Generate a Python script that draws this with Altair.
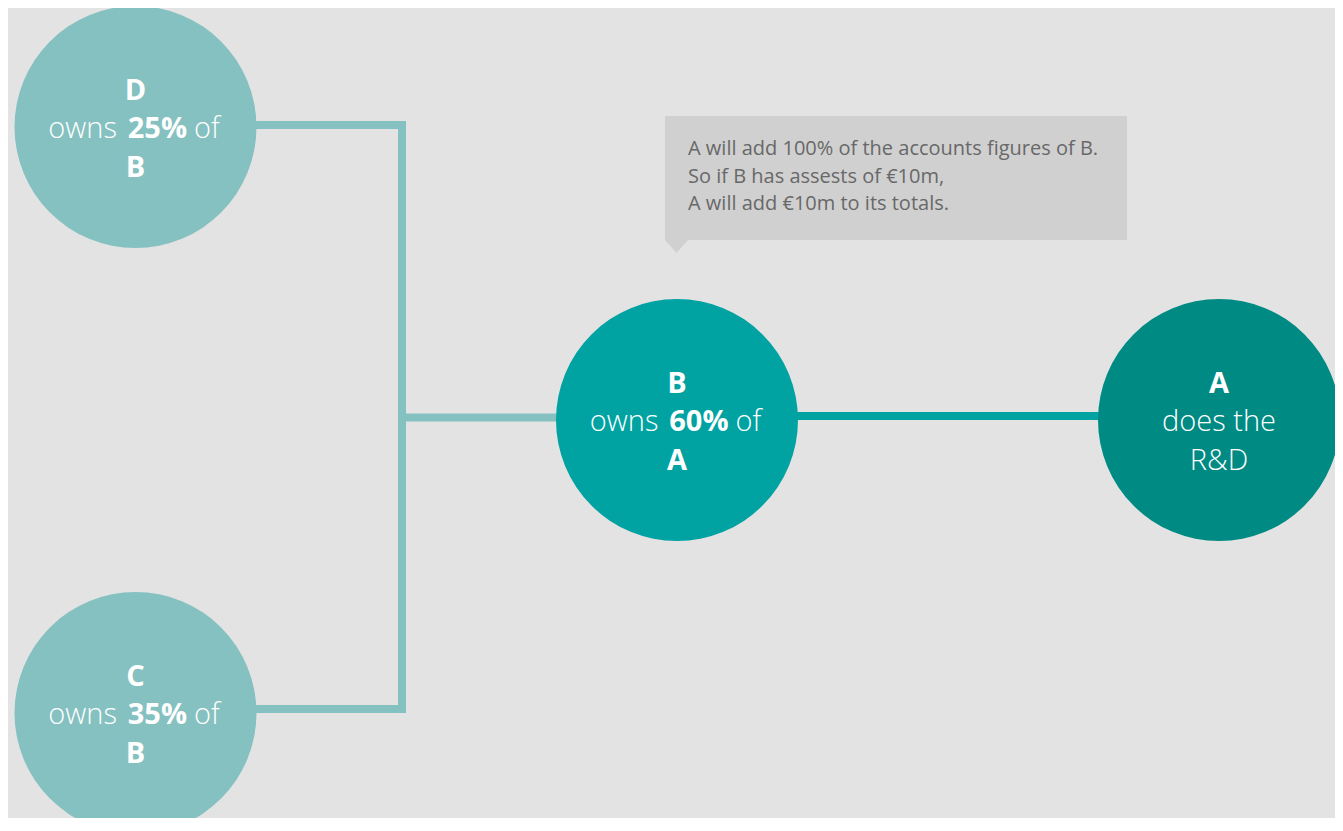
import altair as alt
import pandas as pd

# ---------------- data ----------------
node_names = ["D", "C", "B", "A"]
node_x = [135.5, 135.5, 677, 1219]
node_y = [127, 713, 420, 420]
node_color = ["#85c1c0", "#85c1c0", "#00a3a1", "#008a84"]
node_radius = [121, 121, 121, 121]

top_label = ["D", "C", "B", "A"]
mid_pre = ["owns", "owns", "owns", ""]
mid_bold = ["25%", "35%", "60%", ""]
mid_post = ["of", "of", "of", ""]
mid_plain = ["", "", "", "does the"]
bottom_label = ["B", "B", "A", "R&D"]
bottom_bold = [True, True, True, False]

callout_lines = [
    "A will add 100% of the accounts figures of B.",
    "So if B has assests of \u20ac10m,",
    "A will add \u20ac10m to its totals.",
]

# connector paths (elbow from D and C to B, then B to A)
path_id = [0, 0, 0, 0, 1, 1, 2, 2]
path_x = [135.5, 402, 402, 135.5, 402, 677, 677, 1219]
path_y = [125, 125, 709, 709, 417.5, 417.5, 416, 416]
path_color = ["#85c1c0", "#85c1c0", "#85c1c0", "#85c1c0", "#85c1c0", "#85c1c0", "#00a3a1", "#00a3a1"]

# callout box
box_x, box_x2, box_y, box_y2 = 665, 1127, 116, 240
tip_x = [665, 676.5, 688]
tip_y = [240, 253, 240]

BG = "#e3e3e3"
FONT = "Open Sans"

W, H = 1327, 810
xs = alt.Scale(domain=[8, 8 + W], nice=False, zero=False)
ys = alt.Scale(domain=[8, 8 + H], nice=False, zero=False, reverse=True)
X = lambda f: alt.X(f, type="quantitative", scale=xs, axis=None)
Y = lambda f: alt.Y(f, type="quantitative", scale=ys, axis=None)

# ---------------- tables ----------------
# Vega circle symbol: diameter = sqrt(size)
nodes_df = pd.DataFrame({
    "name": node_names, "x": node_x, "y": node_y,
    "color": node_color,
    "size": [(2 * r) ** 2 for r in node_radius],
})

paths_df = pd.DataFrame({
    "pid": path_id, "x": path_x, "y": path_y, "color": path_color,
    "ord": list(range(len(path_x))),
})

rows = []
for i in range(len(node_names)):
    cx, cy = node_x[i], node_y[i]
    rows.append(dict(x=cx, y=cy - 27, t=top_label[i], w="bold", a="center"))
    if mid_pre[i]:
        rows.append(dict(x=cx - 18.6, y=cy + 11, t=mid_pre[i], w="light", a="right"))
        rows.append(dict(x=cx + 21.9, y=cy + 11, t=mid_bold[i], w="bold", a="center"))
        rows.append(dict(x=cx + 58.4, y=cy + 11, t=mid_post[i], w="light", a="left"))
    else:
        rows.append(dict(x=cx, y=cy + 11, t=mid_plain[i], w="light", a="center"))
    rows.append(dict(x=cx, y=cy + 50, t=bottom_label[i],
                     w="bold" if bottom_bold[i] else "light", a="center"))
text_df = pd.DataFrame(rows)

callout_df = pd.DataFrame({
    "x": [688] * 3,
    "y": [155, 183, 210],
    "t": callout_lines,
})
box_df = pd.DataFrame({"x": [box_x], "x2": [box_x2], "y": [box_y], "y2": [box_y2]})
tip_df = pd.DataFrame({"x": tip_x, "y": tip_y, "y2": [240, 240, 240]})

# ---------------- layers ----------------
lines = alt.Chart(paths_df).mark_line(strokeWidth=8, strokeJoin="miter", strokeCap="butt", clip=True).encode(
    x=X("x"), y=Y("y"), detail="pid:N", order="ord:Q",
    color=alt.Color("color:N", scale=None),
)

circles = alt.Chart(nodes_df).mark_circle(opacity=1, clip=True).encode(
    x=X("x"), y=Y("y"),
    size=alt.Size("size:Q", scale=None),
    color=alt.Color("color:N", scale=None),
)

box = alt.Chart(box_df).mark_rect(color="#d0d0d0").encode(
    x=X("x"), x2="x2", y=Y("y"), y2="y2",
)
tip = alt.Chart(tip_df).mark_area(color="#d0d0d0").encode(
    x=X("x"), y=Y("y"), y2="y2",
)

callout_text = alt.Chart(callout_df).mark_text(
    align="left", baseline="alphabetic", font=FONT, fontSize=20, color="#686868",
).encode(x=X("x"), y=Y("y"), text="t:N")

def text_layer(weight, align):
    sub = text_df[(text_df.w == weight) & (text_df.a == align)]
    return alt.Chart(sub).mark_text(
        align=align, baseline="alphabetic", font=FONT, fontSize=29,
        fontWeight=700 if weight == "bold" else 300, color="white",
    ).encode(x=X("x"), y=Y("y"), text="t:N")

texts = [text_layer(w, a) for w in ["bold", "light"] for a in ["left", "center", "right"]
         if len(text_df[(text_df.w == w) & (text_df.a == a)])]

chart = alt.layer(lines, circles, box, tip, callout_text, *texts).properties(
    width=W, height=H, padding=0, background=BG,
).configure_view(stroke=None)

chart.save("out.html", embed_options={"renderer": "svg", "actions": False})
